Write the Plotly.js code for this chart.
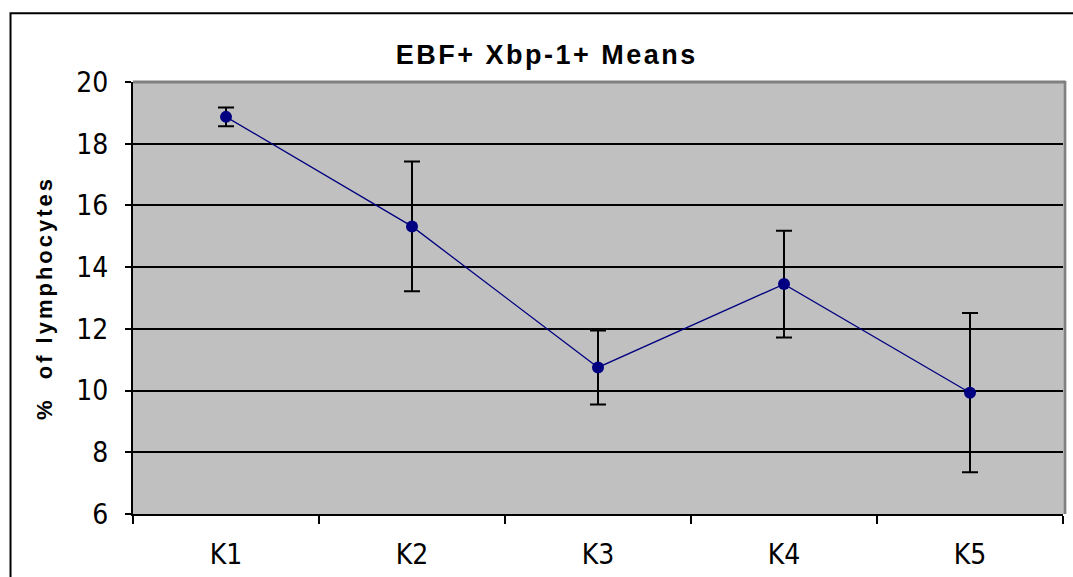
<!DOCTYPE html>
<html>
<head>
<meta charset="utf-8">
<script src="https://cdn.plot.ly/plotly-3.0.1.min.js"></script>
<style>
html,body{margin:0;padding:0;background:#fff;}
#chart{width:1073px;height:577px;}
.gtitle{letter-spacing:2.5px;}
.g-ytitle text{letter-spacing:3px;}
</style>
</head>
<body>
<div id="chart"></div>
<script>
const categories = ["K1", "K2", "K3", "K4", "K5"];
const means = [18.87, 15.32, 10.75, 13.45, 9.93];
const errors = [0.3, 2.1, 1.2, 1.73, 2.58];
const yTicks = [6, 8, 10, 12, 14, 16, 18, 20];

const tickFont = {family: "'Liberation Sans Narrow', 'Arial Narrow', 'DejaVu Sans Condensed', sans-serif", size: 28, color: '#000'};

const trace = {
  x: categories,
  y: means,
  type: 'scatter',
  mode: 'lines+markers',
  line: {color: '#000080', width: 1.3},
  marker: {color: '#000080', size: 12, symbol: 'circle'},
  error_y: {type: 'data', array: errors, visible: true, color: '#000', thickness: 2, width: 8},
  cliponaxis: false,
  hoverinfo: 'skip'
};

const layout = {
  width: 1073,
  height: 577,
  margin: {l: 133, r: 10, t: 82, b: 63},
  paper_bgcolor: '#ffffff',
  plot_bgcolor: '#c0c0c0',
  showlegend: false,
  title: {
    text: '<b>EBF+ Xbp-1+ Means</b>',
    font: {family: "Arial, 'Liberation Sans', sans-serif", size: 27, color: '#000', weight: 'bold'},
    x: 0.445, xanchor: 'center', xref: 'paper',
    y: 0.905, yanchor: 'middle', yref: 'container'
  },
  xaxis: {
    type: 'category',
    range: [-0.5, 4.5],
    tickson: 'boundaries',
    ticks: 'outside',
    ticklen: 8,
    tickwidth: 2,
    tickcolor: '#000',
    showgrid: false,
    showline: true,
    linecolor: '#000',
    linewidth: 2,
    tickfont: tickFont,
    ticklabelstandoff: 14,
    zeroline: false,
    fixedrange: true
  },
  yaxis: {
    range: [6, 20],
    tickvals: yTicks,
    ticktext: yTicks.map(String),
    ticks: 'outside',
    ticklen: 6,
    tickwidth: 2,
    tickcolor: '#000',
    showgrid: true,
    gridcolor: '#000',
    gridwidth: 2,
    showline: true,
    linecolor: '#000',
    linewidth: 2,
    zeroline: false,
    tickfont: tickFont,
    ticklabelstandoff: 11,
    title: {
      text: '<b>%  of lymphocytes</b>',
      font: {family: "Arial, 'Liberation Sans', sans-serif", size: 22, color: '#000', weight: 'bold'},
      standoff: 18
    },
    fixedrange: true
  },
  shapes: [
    {type: 'line', xref: 'paper', yref: 'paper', x0: 0, x1: 1.002, y0: 1, y1: 1,
     line: {color: '#808080', width: 3}, layer: 'above'},
    {type: 'line', xref: 'paper', yref: 'paper', x0: 1.002, x1: 1.002, y0: 0, y1: 1.003,
     line: {color: '#808080', width: 3}, layer: 'above'},
    {type: 'rect', xref: 'paper', yref: 'paper', x0: -0.1317, x1: 2, y0: -1, y1: 1.159,
     line: {color: '#000', width: 2}, fillcolor: 'rgba(0,0,0,0)', layer: 'below'}
  ]
};

Plotly.newPlot('chart', [trace], layout, {displayModeBar: false, staticPlot: true});
</script>
</body>
</html>
